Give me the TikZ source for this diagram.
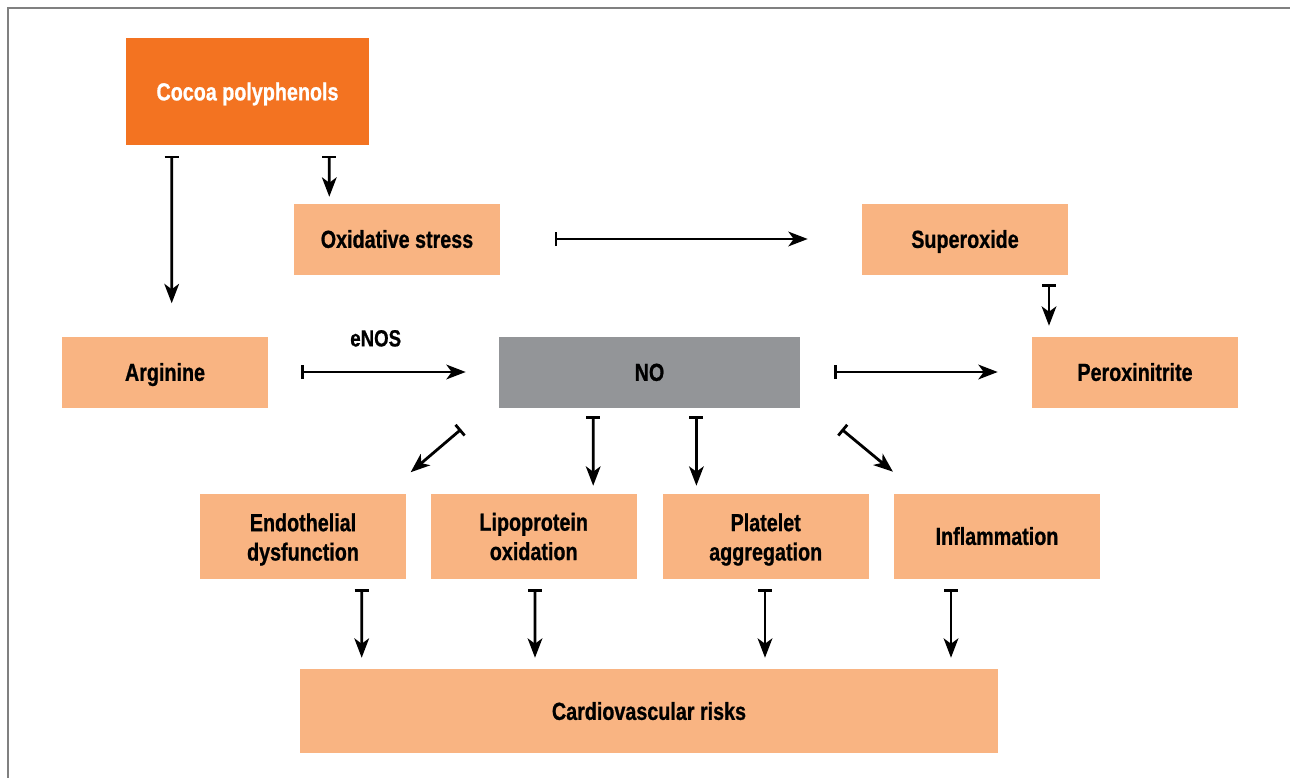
\documentclass[tikz,border=0pt]{standalone}
\usepackage{fontspec}
\setmainfont{Liberation Sans}[FakeStretch=0.8, BoldFeatures={FakeBold=0.8}]
\usetikzlibrary{arrows.meta,calc}
\definecolor{cocoaorange}{HTML}{F37321}
\definecolor{lightorange}{HTML}{F9B482}
\definecolor{nogray}{HTML}{939598}
\definecolor{framegray}{HTML}{808080}
\begin{document}
\begin{tikzpicture}[x=0.75pt,y=-0.75pt,
  box/.style={fill=lightorange, inner sep=0pt},
  txt/.style={inner sep=0pt, align=center,
    font=\bfseries\fontsize{18.5}{22}\selectfont},
  one/.style={label={[txt, text height=13.3pt, text depth=0pt]center:#1}},
  two/.style={label={[txt, yshift=-2.6pt]center:#1}},
  twob/.style={label={[txt, yshift=-0.4pt]center:#1}},
  sz/.style 2 args={minimum width=#1*0.75pt, minimum height=#2*0.75pt},
  inh/.style={line width=2.1pt,
    {Bar[width=10.5pt]}-{Stealth[length=14.5pt,width=11pt,inset=4pt]}},
]
\useasboundingbox (0,0) rectangle (1290,778);
\draw[framegray, line width=1.5pt] (1300,8) -- (8,8) -- (8,790);

\node[box, sz={243}{107}, fill=cocoaorange,
  label={[txt, text=white, text height=13.3pt, text depth=0pt]center:Cocoa polyphenols}] (cocoa) at (247.5,91.5) {};
\node[box, sz={206}{71}, one=Oxidative stress] (ox) at (397,239) {};
\node[box, sz={206}{71}, one=Superoxide] (sup) at (965,239) {};
\node[box, sz={206}{71}, one=Arginine] (arg) at (165,372) {};
\node[box, sz={301}{71}, fill=nogray, one=NO] (no) at (649.5,372) {};
\node[box, sz={206}{71}, one=Peroxinitrite] (per) at (1135,372) {};
\node[box, sz={206}{85}, two={Endothelial\\dysfunction}] (endo) at (303,536) {};
\node[box, sz={206}{85}, twob={Lipoprotein\\oxidation}] (lipo) at (533.7,536) {};
\node[box, sz={206}{85}, two={Platelet\\aggregation}] (plat) at (765.7,536) {};
\node[box, sz={206}{85}, one=Inflammation] (infl) at (997,536) {};
\node[box, sz={698}{84}, one=Cardiovascular risks] (cvr) at (649,711) {};
\node[txt, font=\bfseries\fontsize{17.5}{20}\selectfont, text height=12.6pt, text depth=0pt] (enos) at (375.7,338) {eNOS};

\draw[inh] ($(cocoa.south)+(-75.8,10.3)$) -- ($(arg.north)+(6.7,-33)$);
\draw[inh] ($(cocoa.south)+(81.8,10.3)$) -- ($(ox.north)+(-67.7,-6.5)$);
\draw[inh] ($(ox.east)+(54.3,0)$) -- ($(sup.west)+(-54,0)$);
\draw[inh] ($(sup.south)+(84,9.5)$) -- ($(per.north)+(-86,-10.5)$);
\draw[inh] ($(arg.east)+(32.7,0)$) -- ($(no.west)+(-33,0)$);
\draw[inh] ($(no.east)+(34,0)$) -- ($(per.west)+(-34,0)$);

\draw[inh] ($(no.south west)+(-37.6,21.5)$) -- ($(endo.north east)+(4.4,-21)$);
\draw[inh] ($(no.south)+(-56.3,8.5)$) -- ($(lipo.north)+(59.5,-7.5)$);
\draw[inh] ($(no.south)+(46.9,8.5)$) -- ($(plat.north)+(-69.3,-7.5)$);
\draw[inh] ($(no.south east)+(41.4,21.5)$) -- ($(infl.north west)+(-0.8,-21.5)$);

\draw[inh] ($(endo.south)+(58.7,10.5)$) -- ($(cvr.north)+(-287.3,-11)$);
\draw[inh] ($(lipo.south)+(1.3,10.5)$) -- ($(cvr.north)+(-114,-11)$);
\draw[inh] ($(plat.south)+(-0.7,10.5)$) -- ($(cvr.north)+(116,-11)$);
\draw[inh] ($(infl.south)+(-46,10.5)$) -- ($(cvr.north)+(302,-11)$);
\end{tikzpicture}
\end{document}
